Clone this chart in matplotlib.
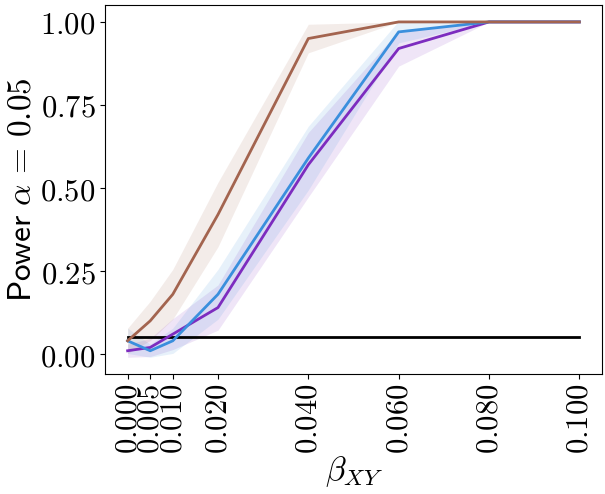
import matplotlib
matplotlib.use("Agg")
import matplotlib.pyplot as plt

plt.rcParams["mathtext.fontset"] = "cm"
plt.rcParams["font.family"] = "serif"
plt.rcParams["font.serif"] = ["DejaVu Serif"]

# effect sizes on the x axis
beta = [0.0, 0.005, 0.01, 0.02, 0.04, 0.06, 0.08, 0.1]
tick_labels = ["0.000", "0.005", "0.010", "0.020", "0.040", "0.060", "0.080", "0.100"]

# power curves and their bands
brown = [0.04, 0.10, 0.18, 0.42, 0.95, 1.00, 1.00, 1.00]
brown_lo = [0.002, 0.041, 0.105, 0.323, 0.907, 1.00, 1.00, 1.00]
brown_hi = [0.078, 0.159, 0.255, 0.517, 0.993, 1.00, 1.00, 1.00]

blue = [0.04, 0.01, 0.04, 0.18, 0.59, 0.97, 1.00, 1.00]
blue_lo = [0.002, -0.0095, 0.002, 0.105, 0.494, 0.937, 1.00, 1.00]
blue_hi = [0.078, 0.0295, 0.078, 0.255, 0.686, 1.003, 1.00, 1.00]

purple = [0.01, 0.02, 0.06, 0.14, 0.57, 0.92, 1.00, 1.00]
purple_lo = [-0.0095, -0.0074, 0.0135, 0.072, 0.473, 0.867, 1.00, 1.00]
purple_hi = [0.0295, 0.0474, 0.1065, 0.208, 0.667, 0.973, 1.00, 1.00]

alpha_level = 0.05

BROWN = "#a3644f"
BLUE = "#3a8fdd"
PURPLE = "#7d2cbf"

fig = plt.figure(figsize=(6.05, 4.94), dpi=100)
ax = fig.add_axes([0.1736, 0.2429, 0.8214, 0.747])

for y, lo, hi, c in [(purple, purple_lo, purple_hi, PURPLE),
                     (blue, blue_lo, blue_hi, BLUE),
                     (brown, brown_lo, brown_hi, BROWN)]:
    ax.fill_between(beta, lo, hi, color=c, alpha=0.12, linewidth=0)

ax.plot(beta, [alpha_level] * len(beta), color="black", lw=2)
ax.plot(beta, purple, color=PURPLE, lw=2)
ax.plot(beta, blue, color=BLUE, lw=2)
ax.plot(beta, brown, color=BROWN, lw=2)

ax.set_xlim(-0.005, 0.105)
ax.set_ylim(-0.06, 1.051)
ax.set_xticks(beta)
ax.set_xticklabels(["$%s$" % t for t in tick_labels], rotation=90, fontsize=22)
yt = [0.0, 0.25, 0.5, 0.75, 1.0]
ax.set_yticks(yt)
ax.set_yticklabels(["$%.2f$" % v for v in yt], fontsize=22)
ax.set_xlabel(r"$\beta_{XY}$", fontsize=24, labelpad=0)
ax.set_ylabel(r"$\mathsf{Power}\ \alpha\,=\,0.05$", fontsize=24, labelpad=2)

fig.savefig("out.png", dpi=100)
